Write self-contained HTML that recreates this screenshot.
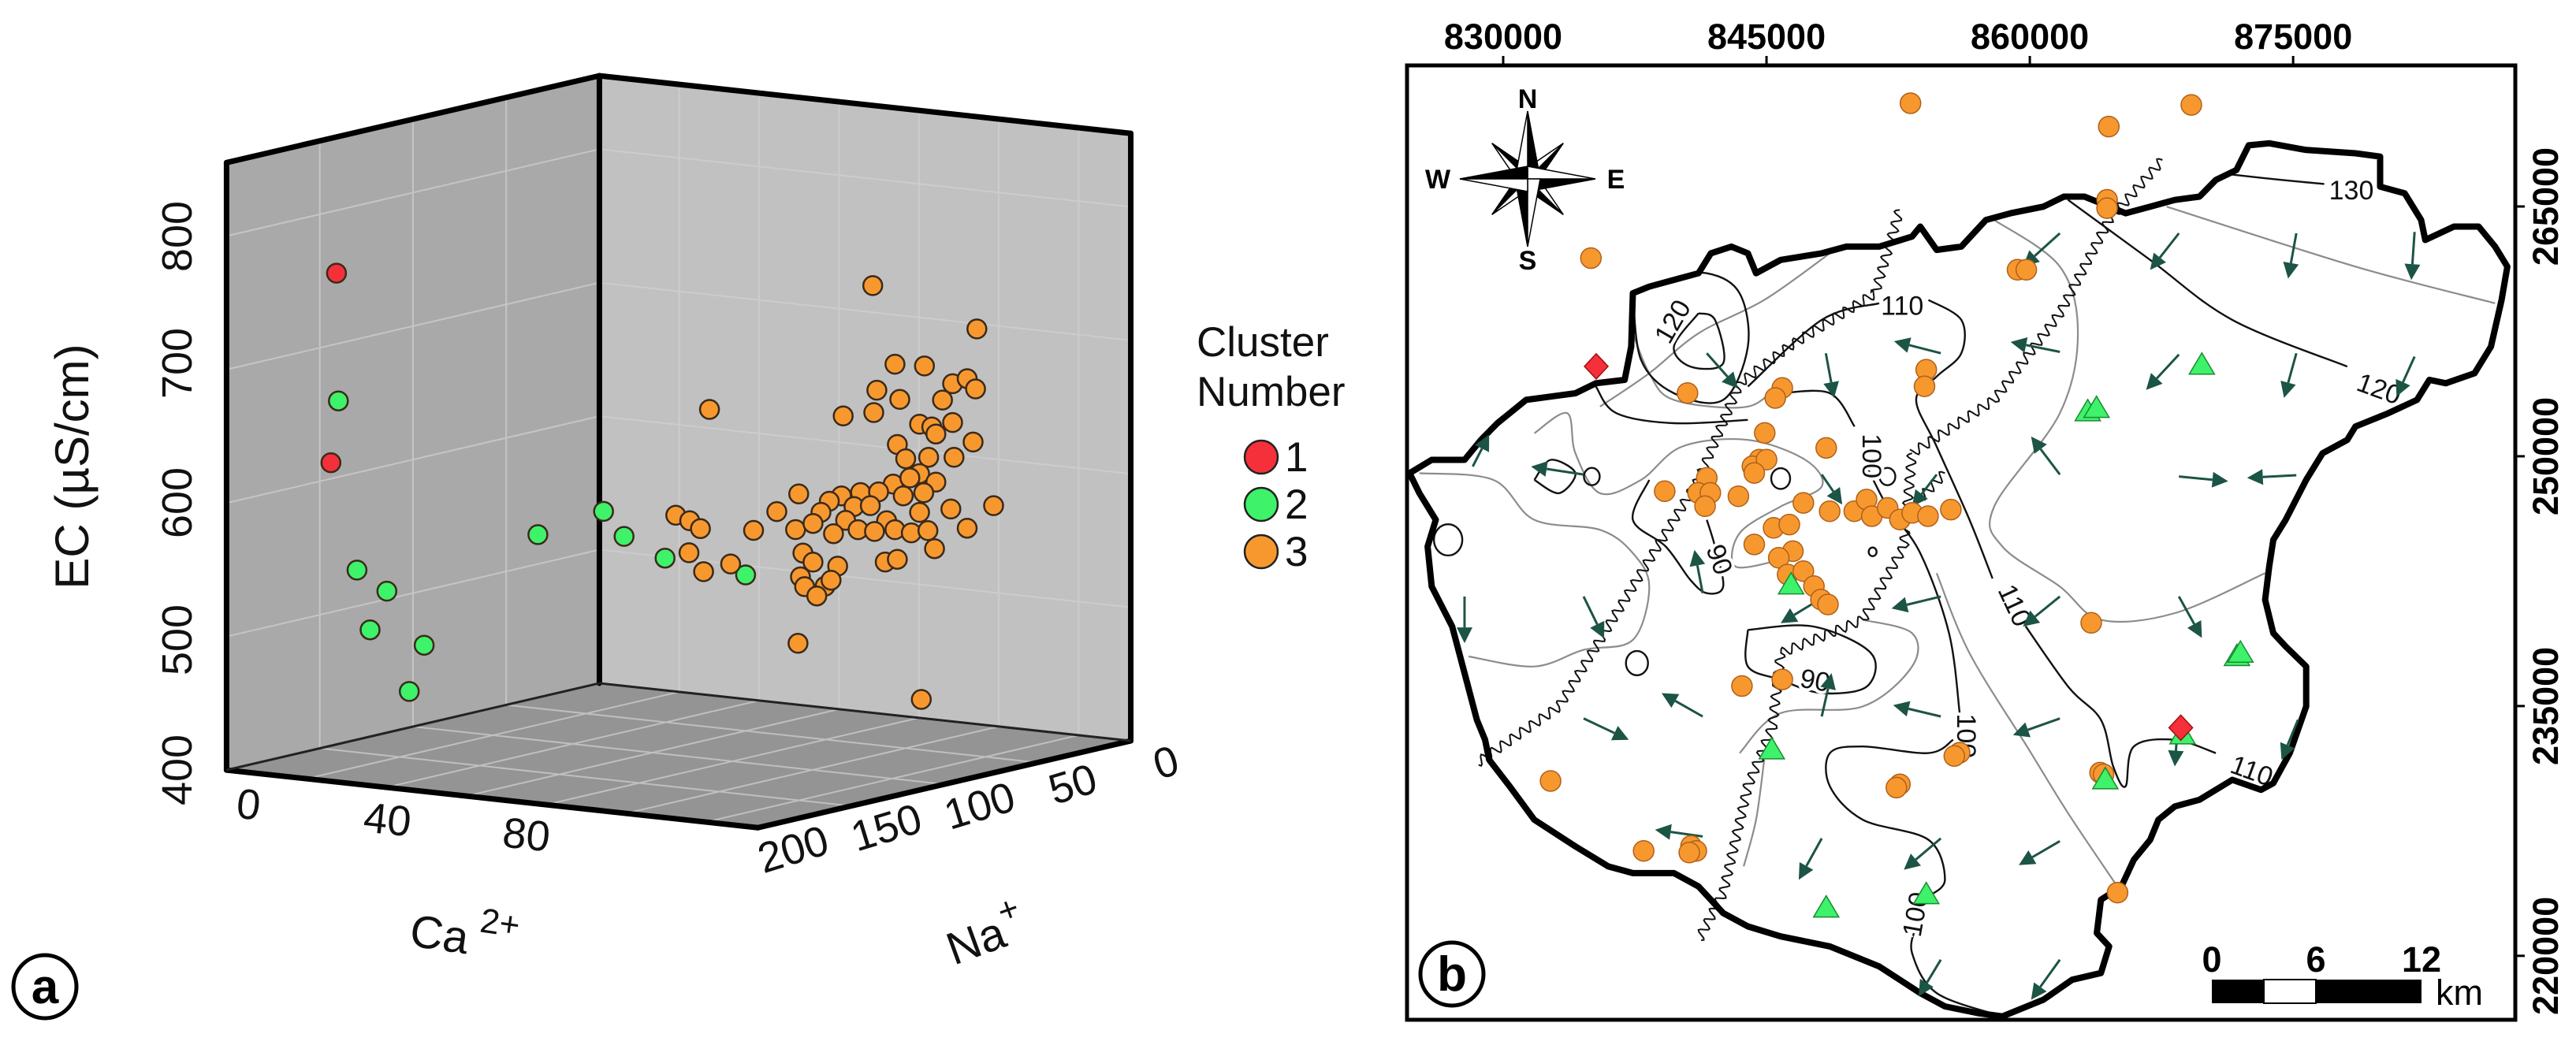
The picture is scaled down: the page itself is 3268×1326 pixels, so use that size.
<!DOCTYPE html>
<html><head><meta charset="utf-8"><style>
html,body{margin:0;padding:0;background:#fff}
svg{display:block}
text{font-family:"Liberation Sans",sans-serif}
</style></head><body>
<svg id="fig" xmlns="http://www.w3.org/2000/svg" width="3268" height="1326" viewBox="0 0 3268 1326">
<rect width="3268" height="1326" fill="#fff"/>
<g id="pa"></g>
<g id="pb"></g>
</svg>
<script>
// ===== Panel a data =====
const redCa=[0,0];
const redNa=[141,144];
const redEC=[753,612];
const greenCa=[0,0,0,0,0,0,0,1.2,7.1,18.9,42.1];
const greenNa=[140,130,114,123,94,102,33,0,0,0,0];
const greenEC=[657,527,506,480,459,427,522,529,512,499,493];
const orangeCa=[78.7,108.7,85.1,93.6,79.9,86.5,101.7,105.9,108.3,70.2,79.0,31.7,98.8,92.2,95.7,101.7,96.9,107.6,85.8,88.2,94.8,102.1,92.2,84.6,89.4,96.9,75.2,80.4,69.7,57.4,66.2,73.3,78.0,87.5,93.4,51.1,63.8,70.9,82.7,92.2,101.2,113.5,22.0,26.0,29.1,44.4,56.5,61.5,67.4,74.5,79.2,85.1,89.8,94.6,105.9,25.8,30.0,37.8,58.6,61.5,68.6,82.3,85.8,96.5,57.9,59.1,65.0,66.7,62.6,57.2,92.7];
const orangeNa=orangeCa.map(()=>0);
const orangeEC=[720,696,663,664,642,637,653,658,651,620,625,614,640,620,619,624,614,611,603,593,596,598,583,573,579,578,564,566,560,558,555,553,555,565,569,543,546,542,545,554,559,565,532,529,524,527,531,537,531,536,536,539,538,541,546,505,492,500,514,508,507,514,517,528,496,489,491,496,483,446,414];
const ecTicks=[400,500,600,700,800];
const ecTickY=[977,812,638,461,300];
const caTicks=["0","40","80"];
const naTicks=["200","150","100","50","0"];

// ===== Panel b data (km) =====
const wellE=[853.2,869.2,864.5,835.0,864.4,864.4,859.3,859.8,840.5,845.9,845.5,854.1,854.0,844.9,848.4,844.6,844.2,845.0,844.3,841.6,841.1,841.8,841.5,839.2,843.4,847.1,848.6,850.0,850.7,851.0,851.9,852.6,853.3,854.2,855.5,845.4,846.3,844.3,846.5,845.7,846.2,847.1,847.7,848.1,848.5,863.5,843.6,845.9,856.0,855.7,852.6,852.4,864.0,864.2,832.7,838.0,840.7,841.0,840.6,865.0];
const wellN=[271.2,271.1,269.8,261.9,265.4,264.9,261.2,261.2,253.8,254.1,253.5,255.2,254.2,251.4,250.5,249.8,249.4,249.8,249.0,248.7,247.8,247.8,247.0,247.9,247.6,247.2,246.7,246.7,247.4,246.4,246.9,246.2,246.6,246.4,246.8,245.7,245.9,244.7,244.3,243.9,242.9,243.1,242.2,241.4,241.1,240.0,236.2,236.6,232.2,232.0,230.3,230.1,231.0,230.9,230.5,226.3,226.6,226.3,226.2,223.8];
const triE=[869.8,863.3,863.8,871.8,872.0,846.4,845.3,868.7,864.3,848.4,854.1];
const triN=[255.5,252.7,252.9,238.0,238.2,242.3,232.4,233.3,230.6,222.9,223.7];
const diaE=[835.3,868.6];
const diaN=[255.4,233.7];
const eastTicks=[830,845,860,875];
const northTicks=[265,250,235,220];

const NS="http://www.w3.org/2000/svg";
function mk(tag,attrs,parent,txt){const e=document.createElementNS(NS,tag);for(const k in attrs)e.setAttribute(k,attrs[k]);if(txt!==undefined)e.textContent=txt;parent.appendChild(e);return e;}

// ===== Panel a =====
const pa=document.getElementById('pa');
function P(ca,na,ec){return [760.4+4.406*ca-2.365*na, 866.9+0.478*ca+0.551*na-1.694*(ec-400)];}
const CAMAX=153,NAMAX=200,ECMAX=855;
function poly(pts){return pts.map(p=>p[0].toFixed(1)+','+p[1].toFixed(1)).join(' ');}
let w;
w=mk('polygon',{points:poly([P(0,NAMAX,400),P(0,0,400),P(0,0,ECMAX),P(0,NAMAX,ECMAX)]),fill:'#a9a9a9'},pa);

w=mk('polygon',{points:poly([P(0,0,400),P(CAMAX,0,400),P(CAMAX,0,ECMAX),P(0,0,ECMAX)]),fill:'#c1c1c1'},pa);

w=mk('polygon',{points:poly([P(0,NAMAX,400),P(0,0,400),P(CAMAX,0,400),P(CAMAX,NAMAX,400)]),fill:'#949494'},pa);

const grid=mk('g',{stroke:'#d2d2d2','stroke-width':2,opacity:0.7},pa);

function ln(a,b,g){mk('line',{x1:a[0],y1:a[1],x2:b[0],y2:b[1]},g);}
[500,600,700,800].forEach(ec=>{ln(P(0,NAMAX,ec),P(0,0,ec),grid);ln(P(0,0,ec),P(CAMAX,0,ec),grid);});
[50,100,150].forEach(na=>{ln(P(0,na,400),P(0,na,ECMAX),grid);ln(P(0,na,400),P(CAMAX,na,400),grid);});
[23,46,69,92,115,138].forEach(ca=>{ln(P(ca,0,400),P(ca,0,ECMAX),grid);ln(P(ca,0,400),P(ca,NAMAX,400),grid);});
const edges=mk('g',{stroke:'#000','stroke-width':7,'stroke-linecap':'round',fill:'none'},pa);

[[P(0,NAMAX,400),P(0,NAMAX,ECMAX)],[P(0,NAMAX,ECMAX),P(0,0,ECMAX)],[P(0,0,ECMAX),P(CAMAX,0,ECMAX)],[P(0,0,400),P(0,0,ECMAX)],[P(CAMAX,0,400),P(CAMAX,0,ECMAX)],[P(0,NAMAX,400),P(CAMAX,NAMAX,400)],[P(CAMAX,NAMAX,400),P(CAMAX,0,400)]].forEach(s=>ln(s[0],s[1],edges));
const be=mk('g',{stroke:'#222','stroke-width':3},pa);
ln(P(0,NAMAX,400),P(0,0,400),be);ln(P(0,0,400),P(CAMAX,0,400),be);
function drawPts(ca,na,ec,fill,name){const g=mk('g',{},pa);
 for(let i=0;i<ca.length;i++){const p=P(ca[i],na[i],ec[i]);const c=mk('circle',{cx:p[0].toFixed(1),cy:p[1].toFixed(1),r:12,fill:fill,stroke:'#3a2a1a','stroke-width':2.5},g);
 }}
drawPts(redCa,redNa,redEC,'#f5303a','cluster-1');
drawPts(greenCa,greenNa,greenEC,'#3ef26a','cluster-2');
drawPts(orangeCa,orangeNa,orangeEC,'#f7982f','cluster-3');
ecTicks.forEach((v,i)=>{const t=mk('text',{x:0,y:0,'font-size':54,'text-anchor':'middle',transform:`translate(243,${ecTickY[i]}) rotate(-90)`,fill:'#111'},pa,String(v));
 });
[0,40,80].forEach((v,i)=>{const p=P(v,NAMAX,400);const t=mk('text',{x:0,y:0,'font-size':54,'text-anchor':'middle',transform:`translate(${p[0]+26},${p[1]+62}) rotate(6)`,fill:'#111'},pa,caTicks[i]);
 });
[200,150,100,50,0].forEach((v,i)=>{const p=P(CAMAX,v,400);const t=mk('text',{x:0,y:0,'font-size':54,'text-anchor':'middle',transform:`translate(${p[0]+50},${p[1]+45}) rotate(-17)`,fill:'#111'},pa,naTicks[i]);
 });
</script>
<script>
const pa2=document.getElementById('pa');
let tt;
tt=mk('text',{x:0,y:0,'font-size':60,'text-anchor':'middle',transform:'translate(112,592) rotate(-90)',fill:'#111'},pa2,'EC (µS/cm)');

tt=mk('text',{x:0,y:0,'font-size':58,transform:'translate(518,1200) rotate(8)',fill:'#111'},pa2);

tt.innerHTML='Ca<tspan dx="12" dy="-30" font-size="44">2+</tspan>';
tt=mk('text',{x:0,y:0,'font-size':58,transform:'translate(1210,1225) rotate(-20)',fill:'#111'},pa2);

tt.innerHTML='Na<tspan dx="2" dy="-28" font-size="44">+</tspan>';
const lg=mk('g',{},pa2);
mk('text',{x:1518,y:452,'font-size':53,fill:'#111'},lg,'Cluster');
mk('text',{x:1518,y:515,'font-size':53,fill:'#111'},lg,'Number');
const legCols=['#f5303a','#3ef26a','#f7982f'];const legLab=['1','2','3'];
legCols.forEach((c,i)=>{const e=mk('g',{},lg);
 mk('circle',{cx:1600,cy:580+i*60,r:21,fill:c,stroke:'#222','stroke-width':2.5},e);
 mk('text',{x:1630,y:598+i*60,'font-size':53,fill:'#111'},e,legLab[i]);});
const la=mk('g',{},pa2);
mk('circle',{cx:57,cy:1252,r:40,fill:'#fff',stroke:'#000','stroke-width':5},la);
mk('text',{x:57,y:1273,'font-size':62,'font-weight':'bold','text-anchor':'middle'},la,'a');

// ===== Panel b =====
const pb=document.getElementById('pb');
function xE(e){return 1907+(e-830)*22.27;}
function yN(n){return 262-(n-265)*21.13;}
function gx(x){return 1634+x*1.0417;}
function gy(y){return y*0.8457;}
function G(pts){return pts.map(p=>[gx(p[0]),gy(p[1])]);}
function smooth(pts,closed){
 const n=pts.length;let d='M'+pts[0][0].toFixed(1)+','+pts[0][1].toFixed(1);
 const get=i=>closed?pts[(i+n)%n]:pts[Math.max(0,Math.min(n-1,i))];
 const lim=closed?n:n-1;
 for(let i=0;i<lim;i++){const p0=get(i-1),p1=get(i),p2=get(i+1),p3=get(i+2);
  const c1=[p1[0]+(p2[0]-p0[0])/6,p1[1]+(p2[1]-p0[1])/6],c2=[p2[0]-(p3[0]-p1[0])/6,p2[1]-(p3[1]-p1[1])/6];
  d+=`C${c1[0].toFixed(1)},${c1[1].toFixed(1)} ${c2[0].toFixed(1)},${c2[1].toFixed(1)} ${p2[0].toFixed(1)},${p2[1].toFixed(1)}`;}
 return d+(closed?'Z':'');}
function wavy(pts){let d='';let s=0;const per=15,amp=6;
 for(let i=0;i<pts.length-1;i++){const a=pts[i],b=pts[i+1];const L=Math.hypot(b[0]-a[0],b[1]-a[1]);const ux=(b[0]-a[0])/L,uy=(b[1]-a[1])/L;
  for(let t=0;t<L;t+=2){const o=amp*Math.sin(2*Math.PI*(s+t)/per);const x=a[0]+ux*t-uy*o,y=a[1]+uy*t+ux*o;d+=(d?'L':'M')+x.toFixed(1)+','+y.toFixed(1);}
  s+=L;}
 return d;}
let fr=mk('rect',{x:1785,y:83,width:1406,height:1211,fill:'#fff',stroke:'#000','stroke-width':5},pb);

eastTicks.forEach(v=>{const x=xE(v);mk('line',{x1:x,y1:83,x2:x,y2:71,stroke:'#000','stroke-width':3},pb);
 const t=mk('text',{x:x,y:62,'font-size':45,'font-weight':'bold','text-anchor':'middle'},pb,String(v*1000));
 });
northTicks.forEach(v=>{const y=yN(v);mk('line',{x1:3191,y1:y,x2:3203,y2:y,stroke:'#000','stroke-width':3},pb);
 const t=mk('text',{x:0,y:0,'font-size':45,'font-weight':'bold','text-anchor':'middle',transform:`translate(3245,${y}) rotate(-90)`},pb,String(v*1000));
 });
const grayC=[
[[160,710],[250,720],[300,780],[380,795],[420,830],[440,880],[420,960],[360,975],[300,1000],[220,985]],
[[380,610],[440,560],[500,500],[580,450],[660,380]],
[[1070,310],[1300,400],[1470,455]],
[[860,330],[940,400],[962,500],[940,620],[860,760],[870,820],[940,880],[990,930],[1080,920],[1190,860]],
[[790,860],[830,980],[900,1120],[950,1220],[1010,1330]],
[[550,1130],[600,1070],[700,1060],[760,1000],[760,950],[700,930]],
[[300,650],[340,620],[350,680],[380,740],[430,720],[480,670],[560,660],[630,690],[650,730],[600,760],[550,800],[545,850],[600,840]],
[[420,500],[440,560],[470,600],[560,610],[600,570]],
[[555,1300],[570,1230],[580,1140]]
];
const gc=mk('g',{stroke:'#8c8c8c','stroke-width':2.2,fill:'none'},pb);
grayC.forEach(c=>mk('path',{d:smooth(G(c),false)},gc));
const blackC=[
[[1150,262],[1210,270],[1262,276]],
[[950,300],[1050,390],[1150,480],[1290,550]],
[[560,580],[650,480],[720,455]],
[[780,450],[820,480],[820,530],[790,565],[765,600],[790,670],[830,780],[858,868]],
[[893,930],[950,1030],[990,1080],[1005,1150],[1020,1180],[1030,1120],[1080,1110],[1130,1130]],
[[600,590],[660,590],[690,640]],
[[705,700],[730,760],[770,830],[805,950],[818,1070]],
[[810,1110],[780,1130],[700,1120],[660,1130],[660,1180],[700,1230],[780,1260],[800,1320],[780,1345]],
[[765,1390],[760,1430],[790,1490],[870,1525]],
[[420,440],[430,540],[470,590],[530,600],[560,520],[550,440],[510,410],[460,420],[420,440]],
[[500,470],[470,520],[490,550],[530,545],[520,480],[500,470]],
[[375,580],[400,620],[470,635],[560,630]],
[[560,945],[640,940],[710,980],[705,1030],[650,1040],[600,1020],[560,1000],[560,945]],
[[440,720],[420,780],[460,820],[490,870],[510,890],[530,880],[520,820],[510,780]],
[[300,720],[330,740],[350,710],[320,690],[300,720]]
];
const bc=mk('g',{stroke:'#111','stroke-width':2.4,fill:'none'},pb);
blackC.forEach(c=>mk('path',{d:smooth(G(c),false)},bc));
[[195,810,18],[425,995,14],[370,715,10],[600,718,12],[730,715,10],[712,828,5]].forEach(o=>mk('ellipse',{cx:gx(o[0]),cy:gy(o[1]),rx:o[2],ry:o[2]*1.1},bc));
const clab=[["130",1295,285,0],["120",1325,582,20],["110",748,458,0],["120",478,475,-60],["100",700,670,90],["110",875,900,65],["90",515,830,70],["90",640,1020,10],["100",815,1090,90],["110",1170,1155,20],["100",775,1360,-80]];
clab.forEach(l=>{const t=mk('text',{x:0,y:0,'font-size':34,'text-anchor':'middle',transform:`translate(${gx(l[1])},${gy(l[2])+12}) rotate(${l[3]})`,fill:'#111',stroke:'#fff','stroke-width':8,'paint-order':'stroke'},pb,l[0]);
 });
const wav=[
[[745,315],[715,440],[610,520],[550,575],[500,720],[420,880],[330,1060],[230,1145]],
[[1065,240],[1000,330],[940,470],[860,600],[760,680]],
[[760,680],[750,820],[700,930],[600,980],[590,1090],[560,1180],[530,1340],[500,1410]],
[[800,710],[760,760]]
];
const wg=mk('g',{stroke:'#111','stroke-width':2,fill:'none'},pb);
wav.forEach(w=>mk('path',{d:wavy(G(w))},wg));
const bnd=[[148,710],[175,690],[215,690],[235,660],[255,635],[290,600],[320,595],[350,590],[375,575],[410,570],[418,520],[420,440],[440,430],[470,420],[500,410],[515,380],[540,370],[560,380],[570,410],[600,390],[650,380],[680,370],[720,370],[760,355],[770,340],[790,375],[820,370],[850,330],[880,320],[920,310],[945,295],[970,295],[990,305],[1020,320],[1050,310],[1080,300],[1110,295],[1130,270],[1155,255],[1170,218],[1195,215],[1240,225],[1300,230],[1330,235],[1330,280],[1360,290],[1380,330],[1385,360],[1420,340],[1450,340],[1470,370],[1485,400],[1478,450],[1465,520],[1445,560],[1410,575],[1390,570],[1375,600],[1340,620],[1300,640],[1290,660],[1260,680],[1240,720],[1215,780],[1200,810],[1195,850],[1190,900],[1200,950],[1215,970],[1240,1000],[1240,1060],[1220,1130],[1200,1175],[1185,1185],[1150,1170],[1110,1200],[1080,1210],[1060,1230],[1050,1260],[1030,1290],[1015,1330],[990,1350],[985,1400],[1000,1420],[990,1460],[955,1470],[920,1500],[870,1525],[840,1520],[800,1510],[770,1490],[720,1450],[660,1420],[600,1405],[560,1390],[530,1370],[500,1330],[470,1310],[420,1310],[390,1300],[350,1270],[300,1230],[270,1180],[245,1140],[240,1110],[230,1080],[215,1010],[200,940],[175,880],[170,820],[180,780],[160,740]];
let bp=mk('polygon',{points:poly(G(bnd)),fill:'none',stroke:'#000','stroke-width':8,'stroke-linejoin':'round'},pb);

const arr=[[940,350,895,400],[1085,350,1050,405],[1228,350,1218,418],[1372,348,1368,420],[795,530,738,512],[940,528,880,513],[1085,532,1045,585],[1228,530,1213,597],[1372,535,1350,595],[510,530,548,583],[655,530,665,597],[940,712,905,655],[1085,715,1145,722],[1228,713,1168,717],[225,700,245,652],[360,712,296,700],[650,712,675,757],[790,712,760,760],[505,890,495,825],[215,895,215,965],[360,895,385,958],[640,905,600,935],[795,895,735,913],[940,895,895,940],[1085,895,1113,957],[505,1075,455,1040],[360,1078,415,1110],[650,1075,662,1010],[795,1075,737,1058],[940,1078,883,1103],[1082,1115,1080,1150],[1230,1080,1210,1140],[505,1255,447,1245],[650,1258,622,1320],[795,1258,750,1305],[940,1262,890,1298],[795,1440,768,1495],[940,1440,905,1500]];
const ag=mk('g',{},pb);
arr.forEach(a=>{const x1=gx(a[0]),y1=gy(a[1]),x2=gx(a[2]),y2=gy(a[3]);const L=Math.hypot(x2-x1,y2-y1),ux=(x2-x1)/L,uy=(y2-y1)/L;
 const bx=x2-ux*20,by=y2-uy*20;
 const e=mk('g',{},ag);
 mk('line',{x1:x1,y1:y1,x2:bx,y2:by,stroke:'#1c5446','stroke-width':3},e);
 mk('polygon',{points:`${x2},${y2} ${bx-uy*10},${by+ux*10} ${bx+uy*10},${by-ux*10}`,fill:'#1c5446'},e);});
const og=mk('g',{},pb);
wellE.forEach((e,i)=>{const c=mk('circle',{cx:xE(e).toFixed(1),cy:yN(wellN[i]).toFixed(1),r:13,fill:'#f7982f',stroke:'#b0601a','stroke-width':1.5},og);
 });
const tg=mk('g',{},pb);
triE.forEach((e,i)=>{const x=xE(e),y=yN(triN[i]);const t=mk('polygon',{points:`${x},${y-15} ${x-16},${y+12} ${x+16},${y+12}`,fill:'#3ef26a',stroke:'#1a8a35','stroke-width':1.5},tg);
 });
const dg=mk('g',{},pb);
diaE.forEach((e,i)=>{const x=xE(e),y=yN(diaN[i]);const t=mk('polygon',{points:`${x},${y-16} ${x+15},${y} ${x},${y+16} ${x-15},${y}`,fill:'#f5303a',stroke:'#a01010','stroke-width':1.5},dg);
 });
const cp=mk('g',{transform:'translate(1938,227)'},pb);
function arm(ang,len,wd){const r=ang*Math.PI/180;const tx=Math.sin(r)*len,ty=-Math.cos(r)*len;const px=Math.cos(r)*wd,py=Math.sin(r)*wd;
 mk('polygon',{points:`0,0 ${tx},${ty} ${px},${py}`,fill:'#000',stroke:'#000','stroke-width':1.5},cp);
 mk('polygon',{points:`0,0 ${tx},${ty} ${-px},${-py}`,fill:'#fff',stroke:'#000','stroke-width':1.5},cp);}
[45,135,225,315].forEach(a=>arm(a,64,12));
[0,90,180,270].forEach(a=>arm(a,86,16));
mk('text',{x:0,y:-90,'font-size':34,'text-anchor':'middle','font-weight':'bold'},cp,'N');
mk('text',{x:0,y:115,'font-size':34,'text-anchor':'middle','font-weight':'bold'},cp,'S');
mk('text',{x:-114,y:12,'font-size':34,'text-anchor':'middle','font-weight':'bold'},cp,'W');
mk('text',{x:112,y:12,'font-size':34,'text-anchor':'middle','font-weight':'bold'},cp,'E');
const sb=mk('g',{},pb);
mk('rect',{x:2806,y:1243,width:66,height:30,fill:'#000'},sb);
mk('rect',{x:2872,y:1243,width:66,height:30,fill:'#fff',stroke:'#000','stroke-width':2},sb);
mk('rect',{x:2938,y:1243,width:134,height:30,fill:'#000'},sb);
[["0",2806],["6",2938],["12",3072]].forEach(l=>mk('text',{x:l[1],y:1233,'font-size':45,'font-weight':'bold','text-anchor':'middle'},sb,l[0]));
mk('text',{x:3090,y:1275,'font-size':45},sb,'km');
const lb=mk('g',{},pb);
mk('circle',{cx:1842,cy:1236,r:40,fill:'#fff',stroke:'#000','stroke-width':5},lb);
mk('text',{x:1842,y:1257,'font-size':62,'font-weight':'bold','text-anchor':'middle'},lb,'b');
</script>
</body></html>
